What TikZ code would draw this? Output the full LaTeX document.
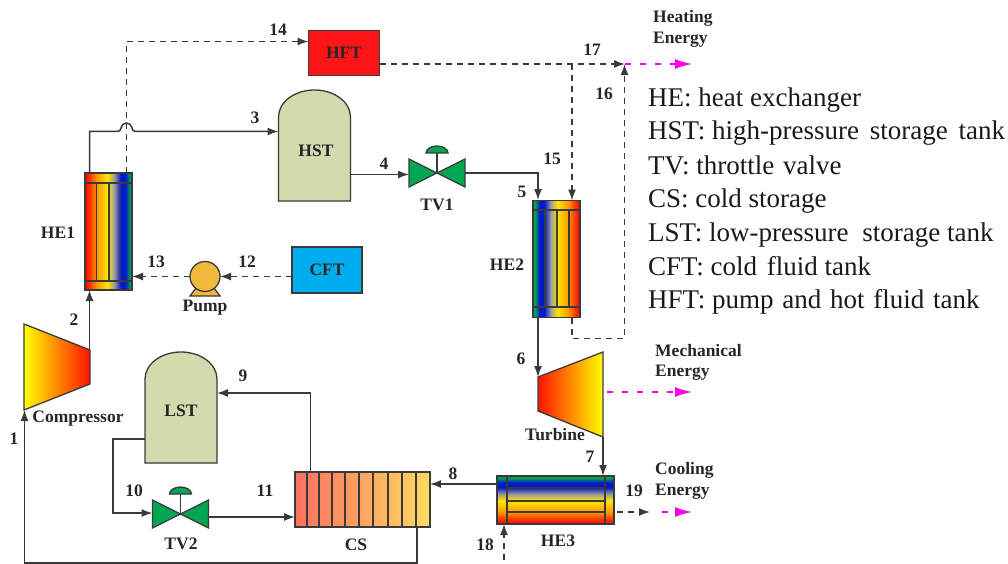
\documentclass[tikz,border=0pt]{standalone}
\usepackage{fontspec}
\setmainfont{Liberation Serif}
\usepackage{tikz}
\usetikzlibrary{arrows.meta}
\definecolor{pipegray}{HTML}{3A3A3A}
\definecolor{tankgreen}{HTML}{D0DCAE}
\definecolor{valvegreen}{HTML}{00A651}
\definecolor{coldblue}{HTML}{00AEEF}
\definecolor{hotred}{HTML}{FF1418}
\definecolor{pumpgold}{HTML}{F2B83C}
\definecolor{energypink}{HTML}{FF00E6}
\definecolor{csleft}{HTML}{FF7060}
\definecolor{csright}{HTML}{FFDA60}
\pgfdeclarehorizontalshading{heat}{100bp}{rgb(0bp)=(1,0,0); rgb(25bp)=(1,0,0); rgb(31bp)=(1,.25,0); rgb(37.5bp)=(1,.6,0); rgb(49bp)=(1,.9,0); rgb(56bp)=(.62,.62,.6); rgb(63bp)=(0,.1,.8); rgb(68bp)=(0,.1,.8); rgb(73bp)=(0,.65,.3); rgb(100bp)=(0,.65,.3)}
\begin{document}
\begin{tikzpicture}[x=1pt,y=-1pt]
      \tikzstyle{pipe} = [draw=pipegray, line width=1.5pt, -{Latex[length=11pt,width=8pt]}]
      \tikzstyle{plain} = [draw=pipegray, line width=1.3pt]
      \tikzstyle{hot} = [pipe, dash pattern=on 6pt off 5pt]
      \tikzstyle{energy} = [draw=energypink, line width=1.8pt, dash pattern=on 6pt off 9pt, -{Latex[length=17pt,width=10pt]}]
      \tikzstyle{format} = [draw=pipegray, line width=1.3pt, inner sep=0pt, outer sep=0pt]
      \tikzstyle{exch} = [format, shading=heat]
      \tikzstyle{tank} = [inner sep=0pt, outer sep=0pt, minimum width=72pt, minimum height=111pt]
      \tikzstyle{valve} = [inner sep=0pt, outer sep=0pt, minimum width=56pt, minimum height=28pt]
      \tikzstyle{lab} = [inner sep=0pt, text=black!85, font=\fontsize{17.5}{17.5}\selectfont\bfseries]
      \tikzstyle{legend} = [inner sep=0pt, anchor=base west, text=black!90, font=\fontsize{27}{27}\selectfont]
      \useasboundingbox (0,0) rectangle (1008,564);

      % tanks
      \foreach \tx/\ty/\tname in {314.5/145.5/hst,181/407.5/lst} {
	\draw[format, fill=tankgreen] (\tx-36,\ty+55.5) -- (\tx-36,\ty-28.5)
	arc[start angle=180, end angle=0, x radius=36pt, y radius=27pt] -- (\tx+36,\ty+55.5) -- cycle;
	\node[tank] (\tname) at (\tx,\ty) {};
      }

      % valves
      \foreach \vx/\vy/\vname in {437/173/tv1,180.5/514/tv2} {
	\draw[format] (\vx,\vy) -- (\vx,\vy-20);
	\draw[format, fill=valvegreen] (\vx-11,\vy-20) arc[start angle=180, end angle=0, x radius=11pt, y radius=7pt] -- cycle;
	\draw[format, fill=valvegreen] (\vx,\vy) -- (\vx-28,\vy-14) -- (\vx-28,\vy+14) -- cycle;
	\draw[format, fill=valvegreen] (\vx,\vy) -- (\vx+28,\vy-14) -- (\vx+28,\vy+14) -- cycle;
	\node[valve] (\vname) at (\vx,\vy) {};
      }

      % boxes and exchangers
      \node[format, fill=hotred, minimum width=71pt, minimum height=45pt] (hft) at (344,53) {};
      \node[format, fill=coldblue, minimum width=70pt, minimum height=46pt] (cft) at (327,270) {};
      \node[exch, minimum width=47pt, minimum height=117pt] (he1) at (108.5,231.5) {};
      \node[exch, shading angle=180, minimum width=47pt, minimum height=117pt] (he2) at (556.5,259) {};
      \node[exch, shading angle=90, minimum width=117pt, minimum height=48pt] (he3) at (555.5,500) {};
      \node[format, left color=csleft, right color=csright, minimum width=135pt, minimum height=55pt] (cs) at (362.5,499.5) {};
      \draw[plain] (85,183) -- (132,183) (85,281) -- (132,281);
      \foreach \x in {96.5,109,120.5} \draw[plain] (\x,183) -- (\x,281);
      \draw[plain] (533,210) -- (580,210) (533,307) -- (580,307);
      \foreach \x in {545,557,569} \draw[plain] (\x,210) -- (\x,307);
      \draw[plain] (507,476) -- (507,524) (605,476) -- (605,524);
      \foreach \y in {488,501,512} \draw[plain] (507,\y) -- (605,\y);
      \foreach \x in {307,319,332,345,359,373,388,402,416} \draw[plain] (\x,472) -- (\x,527);

      % compressor and turbine
      \draw[format, left color=yellow, right color=red!85!orange] (24,324) -- (90,350) -- (90,384) -- (24,410) -- cycle;
      \draw[format, left color=red!85!orange, right color=yellow] (538,377) -- (603,352) -- (603,437) -- (538,411) -- cycle;
      \coordinate (compin) at (24.5,410);
      \coordinate (compout) at (89.5,350);
      \coordinate (turbin) at (538,377);
      \coordinate (turbout) at (603,437);

      % pump
      \draw[format, fill=pumpgold] (190,296) -- (196,288) -- (214,288) -- (220,296) -- cycle;
      \node[format, circle, fill=pumpgold, minimum size=30pt] (pump) at (205,276.5) {};

      % solid lines
      \coordinate (split) at (572,64);
      \coordinate (merge) at (625,64);
      \coordinate (heatend) at (692,64);
      \coordinate (mechstart) at (607,392);
      \coordinate (mechend) at (692,392);
      \coordinate (coolout) at (650,512);
      \coordinate (coolstart) at (662,512);
      \coordinate (coolend) at (692,512);
      \coordinate (feed) at (504,560);
      \path[pipe] (compout) -- (compout |- he1.south);
      \path[pipe] ([xshift=-19pt]he1.north) -- (89.5,131.5) -- (118,131.5) .. controls (122,131.5) and (120,123) .. (126.5,123) .. controls (133,123) and (131,131.5) .. (135,131.5) -- ([yshift=14pt]hst.west);
      \path[pipe] ([yshift=-29pt]hst.east) -- ([yshift=-1.5pt]tv1.west);
      \path[pipe] (tv1.east) -- (538,173) -- (538,200);
      \path[pipe] ([xshift=-18.5pt]he2.south) -- (turbin);
      \path[pipe] (turbout) -- (turbout |- he3.north);
      \path[pipe] ([yshift=16pt]he3.west) -- ([yshift=15.5pt]cs.east);
      \path[pipe] ([xshift=-52pt]cs.north) -- (310.5,393) -- (lst.east |- 0,393);
      \path[pipe] ([yshift=-31.5pt]lst.west) -- (113,439) -- (113,513) -- ([yshift=1pt]tv2.west);
      \path[pipe] ([yshift=-3pt]tv2.east) -- ([yshift=-17.5pt]cs.west);
      \path[pipe] ([xshift=54.5pt]cs.south) -- (417,563) -- (24.5,563) -- (compin);

      % dashed lines
      \path[hot] ([xshift=18pt]he1.north) -- (126.5,41.5) -- ([yshift=11.5pt]hft.west);
      \path[hot] ([yshift=-11pt]hft.east) -- (merge);
      \path[hot] (split) -- (split |- he2.north);
      \path[hot] ([xshift=15.5pt]he2.south) -- (572,338.5) -- (624.5,338.5) -- (624.5,64);
      \path[hot] (pump.west) -- ([yshift=-45pt]he1.east);
      \path[hot] ([yshift=-6.5pt]cft.west) -- (pump.east);
      \path[hot] (feed) -- (feed |- he3.south);
      \path[hot] ([xshift=3pt,yshift=-12pt]he3.east) -- (coolout);

      % energy lines
      \path[energy] (merge) -- (heatend);
      \path[energy] (mechstart) -- (mechend);
      \path[energy] (coolstart) -- (coolend);

      % labels
      \path
      node[lab] (hfttext) at (hft) {HFT}
      node[lab] (cfttext) at (cft) {CFT}
      node[lab] (hsttext) at (316,151) {HST}
      node[lab] (lsttext) at (181,411) {LST}
      node[lab] (he1text) at (58,233) {HE1}
      node[lab] (he2text) at (507,265) {HE2}
      node[lab] (he3text) at (558,541) {HE3}
      node[lab] (tv1text) at (437,205) {TV1}
      node[lab] (tv2text) at (181,544) {TV2}
      node[lab] (cstext) at (356,545) {CS}
      node[lab] (pumptext) at (205,308) {Pump}
      node[lab] (comptext) at (78,419) {Compressor}
      node[lab] (turbtext) at (555,435) {Turbine}
      node[lab] (n1) at (14,439) {1}
      node[lab] (n2) at (74,320) {2}
      node[lab] (n3) at (255,118) {3}
      node[lab] (n4) at (384,164) {4}
      node[lab] (n5) at (522,192) {5}
      node[lab] (n6) at (521,359) {6}
      node[lab] (n7) at (590,457) {7}
      node[lab] (n8) at (453,474) {8}
      node[lab] (n9) at (243,376) {9}
      node[lab] (n10) at (134,491) {10}
      node[lab] (n11) at (265,491) {11}
      node[lab] (n12) at (247,262) {12}
      node[lab] (n13) at (156,262) {13}
      node[lab] (n14) at (278,30) {14}
      node[lab] (n15) at (552,159) {15}
      node[lab] (n16) at (604,94) {16}
      node[lab] (n17) at (592,50) {17}
      node[lab] (n18) at (485,545) {18}
      node[lab] (n19) at (634,491) {19}
      node[lab, anchor=west] (heat1) at (653,18) {Heating}
      node[lab, anchor=west] (heat2) at (653,40) {Energy}
      node[lab, anchor=west] (mech1) at (655,351) {Mechanical}
      node[lab, anchor=west] (mech2) at (655,373) {Energy}
      node[lab, anchor=west] (cool1) at (655,470) {Cooling}
      node[lab, anchor=west] (cool2) at (655,492) {Energy}
      ;

      % legend
      \foreach \y/\legname/\legtext in {106.5/leg1/HE: heat exchanger,140/leg2/HST: high-pressure\hspace{4pt} storage\hspace{4pt} tank,174.5/leg3/TV: throttle\hspace{2pt} valve,207.5/leg4/CS: cold storage,241.5/leg5/LST: low-pressure\hspace{7pt} storage tank,275/leg6/CFT: cold\hspace{3pt} fluid tank,308/leg7/HFT: pump\hspace{2pt} and\hspace{2pt} hot\hspace{2pt} fluid\hspace{2pt} tank}
	\node[legend] (\legname) at (648,\y) {\legtext};
    \end{tikzpicture}
\end{document}
